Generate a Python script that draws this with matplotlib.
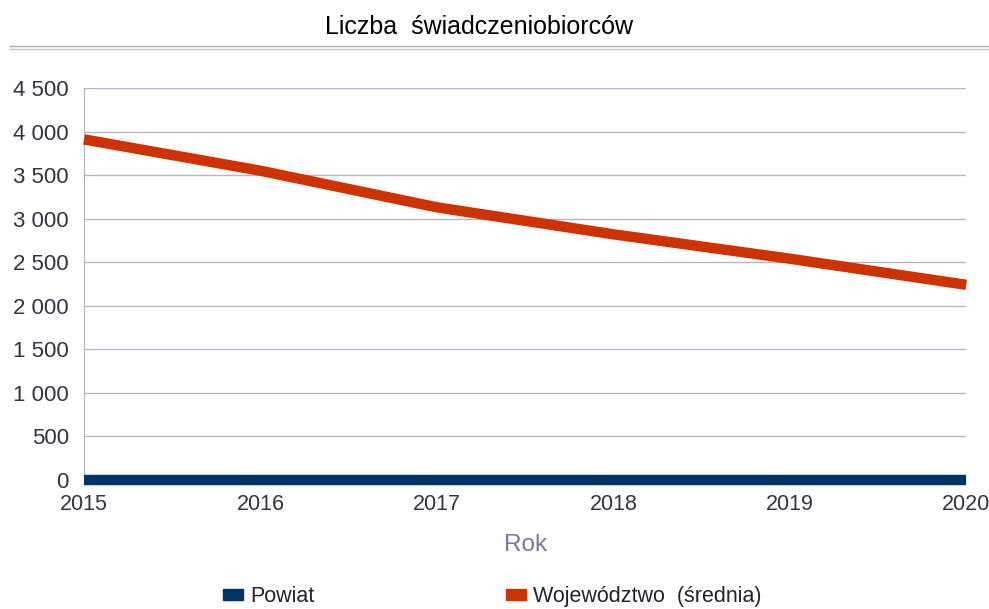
import numpy as np
import matplotlib.pyplot as plt
from matplotlib.lines import Line2D
from matplotlib.patches import Patch

plt.rcParams['font.family'] = ['Liberation Sans', 'DejaVu Sans']

years = [2015, 2016, 2017, 2018, 2019, 2020]
powiat = [0, 0, 0, 0, 0, 0]
wojewodztwo = [3910, 3550, 3130, 2820, 2540, 2240]
yticks = [0, 500, 1000, 1500, 2000, 2500, 3000, 3500, 4000, 4500]
ytick_labels = ['0', '500', '1 000', '1 500', '2 000', '2 500', '3 000', '3 500', '4 000', '4 500']

fig = plt.figure(figsize=(9.89, 6.09), dpi=100)
ax = fig.add_axes([0.085, 0.212, 0.892, 0.6435])

grid_c = '#b4b4cc'
txt_c = '#333344'

ax.plot(years, powiat, color='#003366', lw=7.5, solid_capstyle='butt', zorder=3, clip_on=False)
ax.plot(years, wojewodztwo, color='#cc3300', lw=7.5, solid_capstyle='butt', zorder=3, clip_on=False)

ax.set_xlim(2015, 2020)
ax.set_ylim(0, 4500)
ax.set_yticks(yticks)
ax.set_yticklabels(ytick_labels)
ax.set_xticks(years)
ax.grid(axis='y', color=grid_c, lw=1)
ax.set_axisbelow(True)
for s in ['top', 'right', 'bottom']:
    ax.spines[s].set_visible(False)
ax.spines['left'].set_color(grid_c)
ax.tick_params(length=0, labelsize=16, colors=txt_c)
ax.tick_params(axis='x', labelsize=15.5, pad=10)
ax.tick_params(axis='y', pad=11)

ax.set_xlabel('Rok', fontsize=17.5, color='#7878a0', labelpad=14)

fig.text(0.484, 0.955, 'Liczba  świadczeniobiorców', ha='center', va='center', fontsize=18, color='black')
fig.add_artist(Line2D([0.01, 1.0], [0.924, 0.924], color='#a8a8c4', lw=1))
fig.add_artist(Line2D([0.01, 1.0], [0.919, 0.919], color='#c4c4d8', lw=1))

handles = [Patch(color='#003366'), Patch(color='#cc3300')]
fig.legend(handles, ['Powiat', 'Województwo  (średnia)'], loc='center', bbox_to_anchor=(0.498, 0.02),
           ncol=2, frameon=False, fontsize=15.5, handlelength=0.9, handleheight=0.45,
           columnspacing=8.9, labelcolor='#222233', handletextpad=0.35)

fig.savefig('out.png', dpi=100)
